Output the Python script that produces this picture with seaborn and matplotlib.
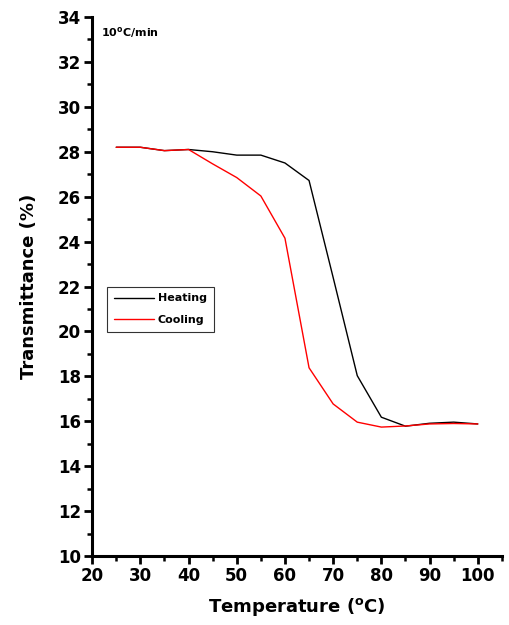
import matplotlib
matplotlib.use("Agg")
import matplotlib.pyplot as plt
import seaborn as sns
import pandas as pd
from matplotlib.ticker import MultipleLocator

temperature = [25, 30, 35, 40, 45, 50, 55, 60, 65, 70, 75, 80, 85, 90, 95, 100]
heating = [28.2, 28.2, 28.05, 28.1, 28.0, 27.85, 27.85, 27.5, 26.72, 22.4, 18.03, 16.18, 15.78, 15.91, 15.96, 15.88]
cooling = [28.2, 28.2, 28.05, 28.1, 27.46, 26.85, 26.03, 24.15, 18.38, 16.77, 15.96, 15.74, 15.79, 15.88, 15.9, 15.88]
series_names = ["Heating", "Cooling"]
x_ticks = [20, 30, 40, 50, 60, 70, 80, 90, 100]
y_ticks = [10, 12, 14, 16, 18, 20, 22, 24, 26, 28, 30, 32, 34]

df = pd.DataFrame({
    "Temperature": temperature * 2,
    "Transmittance": heating + cooling,
    "Series": [series_names[0]] * len(temperature) + [series_names[1]] * len(temperature),
})

sns.set_style("white")
plt.rcParams["font.family"] = ["DejaVu Sans"]
plt.rcParams["font.weight"] = "bold"
plt.rcParams["text.color"] = "black"
plt.rcParams["axes.labelcolor"] = "black"
plt.rcParams["xtick.color"] = "black"
plt.rcParams["ytick.color"] = "black"

fig = plt.figure(figsize=(5.09, 6.25), dpi=100)
ax = fig.add_axes([0.181, 0.1104, 0.805, 0.8624])

sns.lineplot(data=df, x="Temperature", y="Transmittance", hue="Series",
             palette={"Heating": "black", "Cooling": "red"}, linewidth=1.0,
             ax=ax, sort=False)

ax.set_xlim(20, 105)
ax.set_ylim(10, 34)
ax.set_xticks(x_ticks)
ax.set_yticks(y_ticks)
ax.xaxis.set_minor_locator(MultipleLocator(5))
ax.yaxis.set_minor_locator(MultipleLocator(1))
ax.tick_params(axis="both", which="major", direction="out", length=6, width=2,
               labelsize=12, color="black", labelcolor="black", left=True, bottom=True, pad=2)
ax.tick_params(axis="both", which="minor", direction="out", length=3.5, width=1.8,
               color="black", left=True, bottom=True)
for lbl in ax.get_xticklabels() + ax.get_yticklabels():
    lbl.set_fontweight("bold")

for s in ["top", "right"]:
    ax.spines[s].set_visible(False)
for s in ["left", "bottom"]:
    ax.spines[s].set_linewidth(2.2)
    ax.spines[s].set_color("black")

ax.set_xlabel("Temperature ($\\mathbf{^{o}}$C)", fontsize=13, fontweight="bold",
              labelpad=8, color="black")
ax.set_ylabel("Transmittance (%)", fontsize=13, fontweight="bold", labelpad=14,
              color="black")

ax.text(0.022, 0.985, "10$\\mathbf{^{o}}$C/min", transform=ax.transAxes,
        fontsize=8, fontweight="bold", va="top", ha="left", color="black")

leg = ax.legend(loc="lower left", bbox_to_anchor=(0.036, 0.416), frameon=True,
                fancybox=False, edgecolor="black", fontsize=8,
                handlelength=3.6, handletextpad=0.4, borderpad=0.6,
                labelspacing=1.05, borderaxespad=0)
leg.get_frame().set_linewidth(0.8)
for t in leg.get_texts():
    t.set_fontweight("bold")
    t.set_color("black")

fig.savefig("out.png", dpi=100)
